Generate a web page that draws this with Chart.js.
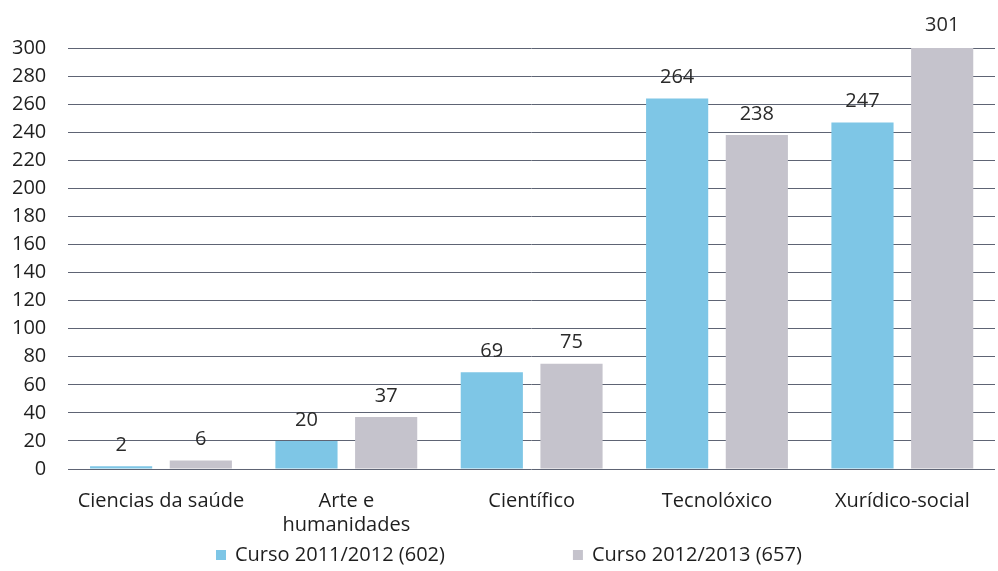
<!DOCTYPE html>
<html>
<head>
<meta charset="utf-8">
<script src="https://cdn.jsdelivr.net/npm/chart.js@4/dist/chart.umd.min.js"></script>
<style>
  body { margin: 0; background: #fff; }
  #wrap { width: 998px; height: 571px; }
</style>
</head>
<body>
<div id="wrap"><canvas id="chart1" width="998" height="571"></canvas></div>
<script>
const categorias = ["Ciencias da saúde", ["Arte e", "humanidades"], "Científico", "Tecnolóxico", "Xurídico-social"];
const curso1112 = [2, 20, 69, 264, 247];
const curso1213 = [6, 37, 75, 238, 301];
const yTicks = [0, 20, 40, 60, 80, 100, 120, 140, 160, 180, 200, 220, 240, 260, 280, 300];

const fonte = "'Open Sans', sans-serif";
const corTexto = "#1e1e1e";

// etiquetas enriba de cada barra
const etiquetas = {
  id: "etiquetas",
  afterDatasetsDraw(chart) {
    const ctx = chart.ctx;
    ctx.save();
    ctx.font = "20px " + fonte;
    ctx.fillStyle = "#2a2a2a";
    ctx.textAlign = "center";
    ctx.textBaseline = "bottom";
    chart.data.datasets.forEach((ds, i) => {
      chart.getDatasetMeta(i).data.forEach((bar, j) => {
        ctx.fillText(ds.data[j], bar.x, bar.y - 11);
      });
    });
    ctx.restore();
  }
};

// lenda debuxada a man, cun oco grande entre elementos
const lenda = {
  id: "lenda",
  afterDraw(chart) {
    const ctx = chart.ctx;
    const caixa = 10, sep = 9, oco = 128;
    ctx.save();
    ctx.font = "20px " + fonte;
    ctx.textBaseline = "middle";
    let x = 216;
    const y = 555;
    chart.data.datasets.forEach(ds => {
      ctx.fillStyle = ds.backgroundColor;
      ctx.fillRect(x, y - caixa / 2, caixa, caixa);
      ctx.fillStyle = corTexto;
      ctx.fillText(ds.label, x + caixa + sep, y);
      x += caixa + sep + ctx.measureText(ds.label).width + oco;
    });
    ctx.restore();
  }
};

new Chart(document.getElementById("chart1"), {
  type: "bar",
  data: {
    labels: categorias,
    datasets: [
      { label: "Curso 2011/2012 (602)", data: curso1112, backgroundColor: "#7ec6e6" },
      { label: "Curso 2012/2013 (657)", data: curso1213, backgroundColor: "#c5c3cc" }
    ]
  },
  options: {
    responsive: false,
    animation: false,
    categoryPercentage: 0.86,
    barPercentage: 0.78,
    layout: { padding: { top: 48, right: 3, left: -10, bottom: 14 } },
    plugins: {
      tooltip: { enabled: false },
      legend: { display: false }
    },
    scales: {
      x: {
        grid: { display: false, drawTicks: false },
        border: { display: false },
        ticks: { font: { family: fonte, size: 20, lineHeight: 1.2 }, color: corTexto, padding: 20, maxRotation: 0 }
      },
      y: {
        min: 0, max: 300,
        afterBuildTicks(axis) { axis.ticks = yTicks.map(v => ({ value: v })); },
        border: { display: false },
        grid: { color: "#5e6474", lineWidth: 1, drawTicks: false },
        ticks: { font: { family: fonte, size: 20 }, color: corTexto, padding: 22, autoSkip: false }
      }
    }
  },
  plugins: [etiquetas, lenda]
});
</script>
</body>
</html>
